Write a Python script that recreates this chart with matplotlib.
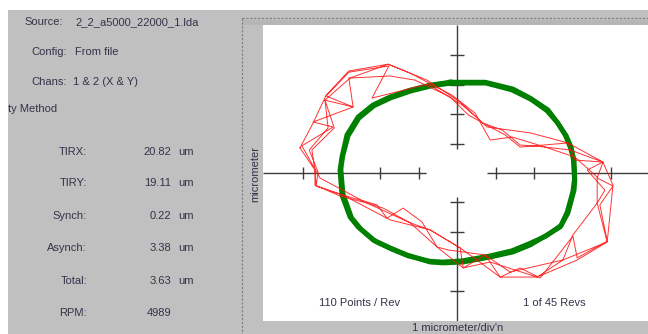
import matplotlib
matplotlib.use('Agg')
import matplotlib.pyplot as plt
from matplotlib.lines import Line2D
from matplotlib.patches import Rectangle

plt.rcParams['font.family'] = ['Liberation Sans', 'DejaVu Sans']

# ---------------- data ----------------
header_labels = ["Source:", "Config:", "Chans:"]
header_values = ["2_2_a5000_22000_1.lda", "From file", "1 & 2 (X & Y)"]
section_title = "ty Method"
stat_labels = ["TIRX:", "TIRY:", "Synch:", "Asynch:", "Total:", "RPM:"]
stat_values = ["20.82", "19.11", "0.22", "3.38", "3.63", "4989"]
stat_units = ["um", "um", "um", "um", "um", ""]

axis_ticks = [-4, -3, -2, -1, 1, 2, 3, 4]

# filtered (green) orbit, micrometers
green1_x = [-0.18, 0.73, 1.45, 1.90, 2.36, 2.62, 2.81, 2.94, 3.04, 3.06, 3.04, 2.88, 2.68, 2.34,
            1.90, 1.45, 0.86, 0.16, -0.36, -0.70, -1.30, -1.74, -2.18, -2.57, -2.78, -2.99, -3.04,
            -2.99, -2.86, -2.57, -2.18, -1.74, -1.22, -0.70, -0.18]
green1_y = [3.08, 3.08, 2.85, 2.54, 2.14, 1.69, 1.29, 0.88, 0.44, -0.24, -0.58, -1.36, -1.83, -2.10,
            -2.44, -2.68, -2.85, -3.02, -3.05, -3.02, -2.78, -2.54, -2.27, -1.83, -1.49, -0.75, 0.10,
            0.54, 1.29, 1.90, 2.31, 2.58, 2.81, 2.98, 3.08]
green2_x = [-0.15, 0.75, 1.42, 1.92, 2.33, 2.60, 2.84, 2.97, 3.02, 3.05, 3.01, 2.86, 2.70, 2.31,
            1.87, 1.42, 0.83, 0.13, -0.38, -0.72, -1.27, -1.70, -2.12, -2.50, -2.74, -2.96, -3.02,
            -2.97, -2.83, -2.55, -2.16, -1.72, -1.20, -0.68, -0.15]
green2_y = [3.05, 3.05, 2.82, 2.50, 2.12, 1.72, 1.25, 0.85, 0.46, -0.20, -0.62, -1.33, -1.78, -2.14,
            -2.40, -2.64, -2.82, -2.98, -3.02, -2.99, -2.81, -2.58, -2.32, -1.90, -1.52, -0.72, 0.12,
            0.57, 1.26, 1.86, 2.28, 2.55, 2.78, 2.95, 3.05]

# raw (red) orbit, four revolutions, micrometers
red_x = [
    -4.08, -3.74, -3.40, -2.81, -1.79, -0.78, 0.08, 0.78, 1.90, 2.88, 3.79, 4.05, 3.90, 3.12,
    2.08, 1.12, 0.08, -0.70, -1.74, -2.96, -3.66, -3.69,
    -3.77, -3.19, -3.43, -2.70, -2.81, -1.74, -1.09, -0.18, 0.29, 0.68, 1.17, 1.64, 2.29, 3.06,
    3.64, 3.64, 3.01, 2.75, 1.38, 0.73, 0.16, -0.52, -1.22, -1.92, -2.34, -3.56,
    -4.03, -3.22, -3.74, -2.70, -3.40, -2.81, -1.77, -2.21, -0.75, 0.13, 0.68, 1.25, 1.64, 2.88,
    3.06, 3.79, 3.64, 4.05, 3.71, 3.90, 3.12, 3.01, 2.16, 1.64, 1.12, 0.73, -0.23, -0.52, -0.91,
    -1.40, -1.82, -2.08, -2.96, -3.66, -3.61,
    -3.84, -3.35, -3.43, -2.78, -1.79, -1.22, -0.13, 0.47, 0.86, 1.43, 2.29, 2.94, 3.79, 3.38,
    3.84, 3.64, 3.90, 2.75, 2.08, 0.86, 0.16, 0.08, -0.70, -1.22, -2.34, -3.04, -3.69, -3.69,
    -4.08]
red_y = [
    0.85, 1.69, 2.64, 3.46, 3.69, 3.15, 2.41, 1.56, 1.36, 1.02, 0.37, -0.41, -2.34, -2.95,
    -3.53, -3.53, -2.54, -1.93, -1.59, -0.75, -0.44, 0.10,
    0.78, 1.53, 2.47, 2.24, 3.22, 3.29, 3.15, 2.58, 1.97, 1.69, 1.46, 0.95, 0.88, 0.54,
    -0.14, -1.02, -2.10, -2.95, -3.36, -2.78, -3.22, -2.51, -1.69, -1.19, -1.02, -0.17,
    0.92, 1.56, 1.73, 2.24, 2.61, 3.42, 3.63, 2.54, 3.02, 2.31, 1.69, 1.29, 0.88, 1.02,
    0.44, 0.37, -0.17, -0.44, -1.08, -2.31, -2.88, -2.14, -3.56, -3.22, -3.53, -2.78, -2.61, -2.51,
    -1.66, -1.19, -1.53, -1.08, -0.75, -0.44, 0.03,
    0.78, 1.53, 2.47, 3.22, 3.69, 3.39, 2.64, 2.03, 1.12, 1.22, 0.88, 0.78, 0.37, 0.10,
    -0.58, -1.02, -2.34, -2.95, -3.53, -3.02, -3.22, -2.54, -1.93, -1.69, -1.02, -0.78, -0.41, 0.10,
    0.85]

# ---------------- figure ----------------
W, H = 648, 334
fig = plt.figure(figsize=(W / 100, H / 100), dpi=100)
fig.patch.set_facecolor('#c0c0c0')

def fx(px):
    return px / W

def fy(py):
    return 1 - py / H

# white strips of the window
fig.add_artist(Rectangle((0, fy(10)), 1, 10 / H, transform=fig.transFigure,
                         facecolor='white', edgecolor='none', zorder=0))
fig.add_artist(Rectangle((0, 0), fx(8), 1, transform=fig.transFigure,
                         facecolor='white', edgecolor='none', zorder=0))
# darker band above plot
fig.add_artist(Rectangle((fx(242), fy(25)), 1, 5 / H, transform=fig.transFigure,
                         facecolor='#b6b6b6', edgecolor='none', zorder=0))
# dashed frame
fig.add_artist(Line2D([fx(242), 1], [fy(18), fy(18)], transform=fig.transFigure,
                      color='#7a7a7a', lw=0.8, ls=(0, (2, 1.5))))
fig.add_artist(Line2D([fx(242), fx(242)], [fy(18), 0], transform=fig.transFigure,
                      color='#7a7a7a', lw=0.8, ls=(0, (2, 1.5))))

tc = '#33334a'
fs = 8
for i, (lab, val) in enumerate(zip(header_labels, header_values)):
    ypx = [22, 52, 82][i]
    xr = [63, 67, 67][i]
    xv = [75, 75, 73][i]
    fig.text(fx(xr), fy(ypx), lab, ha='right', va='center', fontsize=fs, color=tc)
    fig.text(fx(xv), fy(ypx), val, ha='left', va='center', fontsize=fs, color=tc)
fig.text(fx(8), fy(109), section_title, ha='left', va='center', fontsize=fs, color=tc)

stat_y = [152, 183, 216, 248, 281, 313]
for lab, val, unit, ypx in zip(stat_labels, stat_values, stat_units, stat_y):
    fig.text(fx(87), fy(ypx), lab, ha='right', va='center', fontsize=fs, color=tc)
    fig.text(fx(171), fy(ypx), val, ha='right', va='center', fontsize=fs, color=tc)
    if unit:
        fig.text(fx(178), fy(ypx), unit, ha='left', va='center', fontsize=fs, color=tc)

# ---------------- plot ----------------
ax = fig.add_axes([fx(263), fy(321), (W - 263) / W, (321 - 25) / H])
ax.set_facecolor('white')
for s in ax.spines.values():
    s.set_visible(False)
ax.set_xticks([])
ax.set_yticks([])
ax.set_xlim(-5.04, 4.96)
ax.set_ylim(-5.02, 5.02)

ac = '#3c3c3c'
ax.hlines(0, -5.04, -0.80, color=ac, lw=1.0, zorder=1)
ax.hlines(0, 0.78, 4.96, color=ac, lw=1.0, zorder=1)
ax.vlines(0, 0.81, 5.02, color=ac, lw=1.0, zorder=1)
ax.vlines(0, -5.02, -0.81, color=ac, lw=1.0, zorder=1)
for t in axis_ticks:
    ax.vlines(t, -0.2, 0.2, color=ac, lw=1.0, zorder=1)
    ax.hlines(t, -0.17, 0.17, color=ac, lw=1.0, zorder=1)

ax.plot(green1_x, green1_y, color='#008000', lw=3.5, solid_joinstyle='round', zorder=3)
ax.plot(green2_x, green2_y, color='#008000', lw=3.5, solid_joinstyle='round', zorder=3)
ax.plot(red_x, red_y, color='#ff1010', lw=0.7, alpha=0.85, zorder=4)

fig.text(fx(360), fy(303), "110 Points / Rev", ha='center', va='center', fontsize=fs, color=tc)
fig.text(fx(554), fy(303), "1 of 45 Revs", ha='center', va='center', fontsize=fs, color=tc)
fig.text(fx(255), fy(174), "micrometer", ha='center', va='center', rotation=90,
         fontsize=fs, color=tc)
fig.text(fx(458), fy(328), "1 micrometer/div'n", ha='center', va='center', fontsize=fs, color=tc)

fig.savefig('out.png', dpi=100, facecolor=fig.get_facecolor())
